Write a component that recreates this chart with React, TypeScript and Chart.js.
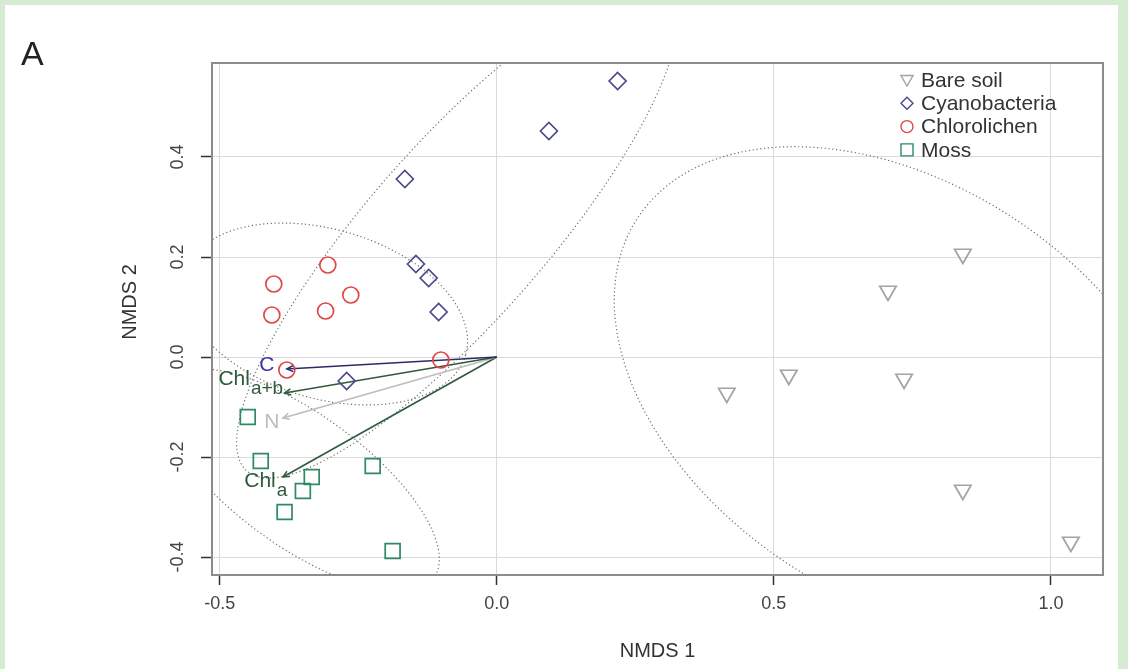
import React, { useEffect, useRef } from 'react';
import { Chart, registerables } from 'chart.js';

Chart.register(...registerables);

// ---- data (NMDS scores) ----
const bareX = [0.841, 0.706, 0.527, 0.735, 0.415, 0.841, 1.036];
const bareY = [0.206, 0.132, -0.036, -0.044, -0.072, -0.266, -0.37];
const cyanoX = [0.218, 0.094, -0.166, -0.146, -0.123, -0.105, -0.271];
const cyanoY = [0.552, 0.452, 0.356, 0.186, 0.158, 0.09, -0.048];
const chloroX = [-0.305, -0.4025, -0.2635, -0.406, -0.309, -0.101, -0.379];
const chloroY = [0.184, 0.146, 0.124, 0.084, 0.092, -0.006, -0.026];
const mossX = [-0.4495, -0.426, -0.334, -0.35, -0.383, -0.224, -0.188];
const mossY = [-0.12, -0.208, -0.24, -0.268, -0.31, -0.218, -0.388];

const groupNames = ['Bare soil', 'Cyanobacteria', 'Chlorolichen', 'Moss'];
const groupColors = ['#a3a3a3', '#4a4a8c', '#e04848', '#2e8a62'];
const groupStyles = ['triangle', 'rectRot', 'circle', 'rect'];

// envfit vectors
const arrowMain = ['C', 'Chl', 'N', 'Chl'];
const arrowSub = ['', 'a+b', '', 'a'];
const arrowX = [-0.379, -0.383, -0.386, -0.386];
const arrowY = [-0.024, -0.072, -0.122, -0.24];
const arrowColors = ['#2c2c66', '#2f5a3c', '#bdbdbd', '#2f5a3c'];
const labelColors = ['#3c3ca0', '#2f5a3c', '#bdbdbd', '#2f5a3c'];
const labelX = [-0.415, -0.444, -0.406, -0.417];
const labelY = [-0.016, -0.044, -0.13, -0.248];

// group ellipses (centre, major and minor semi-axis vectors, data units)
const ellCX = [0.729, -0.072, -0.31, -0.356];
const ellCY = [-0.068, 0.25, 0.086, -0.246];
const ellAX = [0.4747, 0.379, 0.2536, 0.2424];
const ellAY = [-0.3464, 0.478, -0.082, -0.1952];
const ellBX = [-0.2049, 0.1199, -0.0428, -0.07];
const ellBY = [-0.3446, -0.1164, -0.1624, -0.1068];

const xTicks = [-0.5, 0, 0.5, 1.0];
const yTicks = [-0.4, -0.2, 0, 0.2, 0.4];
const xLimits = [-0.514, 1.094];
const yLimits = [-0.436, 0.588];

const FONT = '"Liberation Sans", Arial, Helvetica, sans-serif';

function pts(xs: number[], ys: number[]) {
  return xs.map((x, i) => ({ x, y: ys[i] }));
}

function drawMarker(ctx: CanvasRenderingContext2D, style: string, x: number, y: number, r: number) {
  ctx.beginPath();
  if (style === 'triangle') {
    ctx.moveTo(x, y + r);
    ctx.lineTo(x - r * 0.866, y - r * 0.5);
    ctx.lineTo(x + r * 0.866, y - r * 0.5);
    ctx.closePath();
  } else if (style === 'rectRot') {
    ctx.moveTo(x - r, y);
    ctx.lineTo(x, y - r);
    ctx.lineTo(x + r, y);
    ctx.lineTo(x, y + r);
    ctx.closePath();
  } else if (style === 'circle') {
    ctx.arc(x, y, r, 0, Math.PI * 2);
  } else {
    const s = r * 0.7071;
    ctx.rect(x - s, y - s, 2 * s, 2 * s);
  }
  ctx.stroke();
}

const decorPlugin = {
  id: 'decor',
  beforeDatasetsDraw(chart: any) {
    const { ctx, chartArea: ca, scales } = chart;
    const sx = scales.x;
    const sy = scales.y;
    ctx.save();
    ctx.beginPath();
    ctx.rect(ca.left, ca.top, ca.right - ca.left, ca.bottom - ca.top);
    ctx.clip();
    ctx.strokeStyle = '#6e6e6e';
    ctx.lineWidth = 1.2;
    ctx.setLineDash([1.2, 2.6]);
    for (let i = 0; i < ellCX.length; i++) {
      ctx.beginPath();
      for (let k = 0; k <= 360; k++) {
        const t = (k * Math.PI) / 180;
        const dx = ellCX[i] + Math.cos(t) * ellAX[i] + Math.sin(t) * ellBX[i];
        const dy = ellCY[i] + Math.cos(t) * ellAY[i] + Math.sin(t) * ellBY[i];
        const px = sx.getPixelForValue(dx);
        const py = sy.getPixelForValue(dy);
        if (k === 0) ctx.moveTo(px, py);
        else ctx.lineTo(px, py);
      }
      ctx.stroke();
    }
    ctx.restore();
  },
  afterDatasetsDraw(chart: any) {
    const { ctx, scales } = chart;
    const sx = scales.x;
    const sy = scales.y;
    const ox = sx.getPixelForValue(0);
    const oy = sy.getPixelForValue(0);
    ctx.save();
    // arrow heads
    for (let i = 0; i < arrowX.length; i++) {
      const tx = sx.getPixelForValue(arrowX[i]);
      const ty = sy.getPixelForValue(arrowY[i]);
      const th = Math.atan2(ty - oy, tx - ox);
      const L = 7;
      ctx.strokeStyle = arrowColors[i];
      ctx.lineWidth = 1.5;
      ctx.beginPath();
      ctx.moveTo(tx - L * Math.cos(th - 0.45), ty - L * Math.sin(th - 0.45));
      ctx.lineTo(tx, ty);
      ctx.lineTo(tx - L * Math.cos(th + 0.45), ty - L * Math.sin(th + 0.45));
      ctx.stroke();
    }
    // labels
    ctx.textBaseline = 'middle';
    ctx.textAlign = 'left';
    for (let i = 0; i < arrowMain.length; i++) {
      const cx = sx.getPixelForValue(labelX[i]);
      const cy = sy.getPixelForValue(labelY[i]);
      ctx.font = `21px ${FONT}`;
      const w1 = ctx.measureText(arrowMain[i]).width;
      ctx.font = `19px ${FONT}`;
      const w2 = arrowSub[i] ? ctx.measureText(arrowSub[i]).width + 1 : 0;
      const left = cx - (w1 + w2) / 2;
      ctx.fillStyle = labelColors[i];
      ctx.font = `21px ${FONT}`;
      ctx.fillText(arrowMain[i], left, cy);
      if (arrowSub[i]) {
        ctx.font = `19px ${FONT}`;
        ctx.fillText(arrowSub[i], left + w1 + 1, cy + 10);
      }
    }
    ctx.restore();
  },
  afterDraw(chart: any) {
    const { ctx, chartArea: ca, scales } = chart;
    const sy = scales.y;
    ctx.save();
    // top and right frame
    ctx.strokeStyle = '#8c8c8c';
    ctx.lineWidth = 2;
    ctx.beginPath();
    ctx.moveTo(ca.left, ca.top);
    ctx.lineTo(ca.right, ca.top);
    ctx.lineTo(ca.right, ca.bottom);
    ctx.stroke();
    // y tick labels (rotated, R style)
    ctx.fillStyle = '#444';
    ctx.font = `18px ${FONT}`;
    ctx.textAlign = 'center';
    ctx.textBaseline = 'middle';
    for (const v of yTicks) {
      const py = sy.getPixelForValue(v);
      ctx.save();
      ctx.translate(178, py);
      ctx.rotate(-Math.PI / 2);
      ctx.fillText(v.toFixed(1), 0, 0);
      ctx.restore();
    }
    // axis titles
    ctx.fillStyle = '#333';
    ctx.font = `20px ${FONT}`;
    ctx.fillText('NMDS 1', (ca.left + ca.right) / 2, 651);
    ctx.save();
    ctx.translate(130, 302);
    ctx.rotate(-Math.PI / 2);
    ctx.fillText('NMDS 2', 0, 0);
    ctx.restore();
    // panel letter
    ctx.fillStyle = '#222';
    ctx.font = `34px ${FONT}`;
    ctx.textAlign = 'left';
    ctx.fillText('A', 21, 56);
    // legend
    ctx.font = `21px ${FONT}`;
    ctx.textBaseline = 'middle';
    for (let i = 0; i < groupNames.length; i++) {
      const ly = 80 + i * 23.3;
      ctx.strokeStyle = groupColors[i];
      ctx.lineWidth = 1.4;
      const r = groupStyles[i] === 'rect' ? 8.5 : groupStyles[i] === 'triangle' ? 7 : 6;
      drawMarker(ctx, groupStyles[i], 907, groupStyles[i] === 'triangle' ? ly - 1 : ly, r);
      ctx.fillStyle = '#333';
      ctx.fillText(groupNames[i], 921, ly + 1);
    }
    ctx.restore();
  },
};

export default function App() {
  const ref = useRef<HTMLCanvasElement | null>(null);
  useEffect(() => {
    if (!ref.current) return;
    const groupX = [bareX, cyanoX, chloroX, mossX];
    const groupY = [bareY, cyanoY, chloroY, mossY];
    const pointDatasets = groupNames.map((name, g) => ({
      type: 'scatter' as const,
      label: name,
      data: pts(groupX[g], groupY[g]),
      pointStyle: groupStyles[g],
      pointRotation: groupStyles[g] === 'triangle' ? 180 : 0,
      pointRadius: groupStyles[g] === 'rect' ? 10.5 : groupStyles[g] === 'circle' ? 8 : groupStyles[g] === 'triangle' ? 9.5 : 8.5,
      borderColor: groupColors[g],
      backgroundColor: 'rgba(0,0,0,0)',
      pointBorderWidth: 1.7,
      borderWidth: 1.7,
    }));
    const arrowDatasets = arrowX.map((ax, i) => ({
      type: 'line' as const,
      label: 'arrow' + i,
      data: [
        { x: 0, y: 0 },
        { x: ax, y: arrowY[i] },
      ],
      borderColor: arrowColors[i],
      borderWidth: 1.6,
      pointRadius: 0,
      showLine: true,
      fill: false,
    }));
    const chart = new Chart(ref.current, {
      type: 'scatter',
      data: { datasets: [...pointDatasets, ...arrowDatasets] as any },
      options: {
        responsive: false,
        animation: false,
        events: [],
        layout: { padding: { left: 0, top: 63, right: 25, bottom: 0 } },
        plugins: { legend: { display: false }, tooltip: { enabled: false } },
        scales: {
          x: {
            type: 'linear',
            min: xLimits[0],
            max: xLimits[1],
            afterFit: (s: any) => {
              s.height = 94;
            },
            afterBuildTicks: (s: any) => {
              s.ticks = xTicks.map((v) => ({ value: v }));
            },
            ticks: {
              includeBounds: false,
              color: '#444',
              font: { family: FONT, size: 18 },
              padding: 8,
              maxRotation: 0,
              callback: (v: any) => Number(v).toFixed(1),
            },
            grid: { color: '#dadada', lineWidth: 1, tickColor: '#333', tickLength: 10, tickWidth: 1.5 },
            border: { display: true, color: '#8c8c8c', width: 2 },
          },
          y: {
            type: 'linear',
            min: yLimits[0],
            max: yLimits[1],
            afterFit: (s: any) => {
              s.width = 212;
            },
            afterBuildTicks: (s: any) => {
              s.ticks = yTicks.map((v) => ({ value: v }));
            },
            ticks: { display: false, includeBounds: false },
            grid: { color: '#dadada', lineWidth: 1, tickColor: '#333', tickLength: 11, tickWidth: 1.5 },
            border: { display: true, color: '#8c8c8c', width: 2 },
          },
        },
      },
      plugins: [decorPlugin],
    });
    return () => chart.destroy();
  }, []);

  return (
    <div style={{ position: 'fixed', left: 0, top: 0, width: 1128, height: 669, background: '#d5ecd2' }}>
      <div style={{ position: 'absolute', left: 5, top: 5, width: 1113, height: 664, background: '#ffffff' }} />
      <canvas
        ref={ref}
        width={1128}
        height={669}
        style={{ position: 'absolute', left: 0, top: 0, width: 1128, height: 669, display: 'block' }}
      />
    </div>
  );
}
